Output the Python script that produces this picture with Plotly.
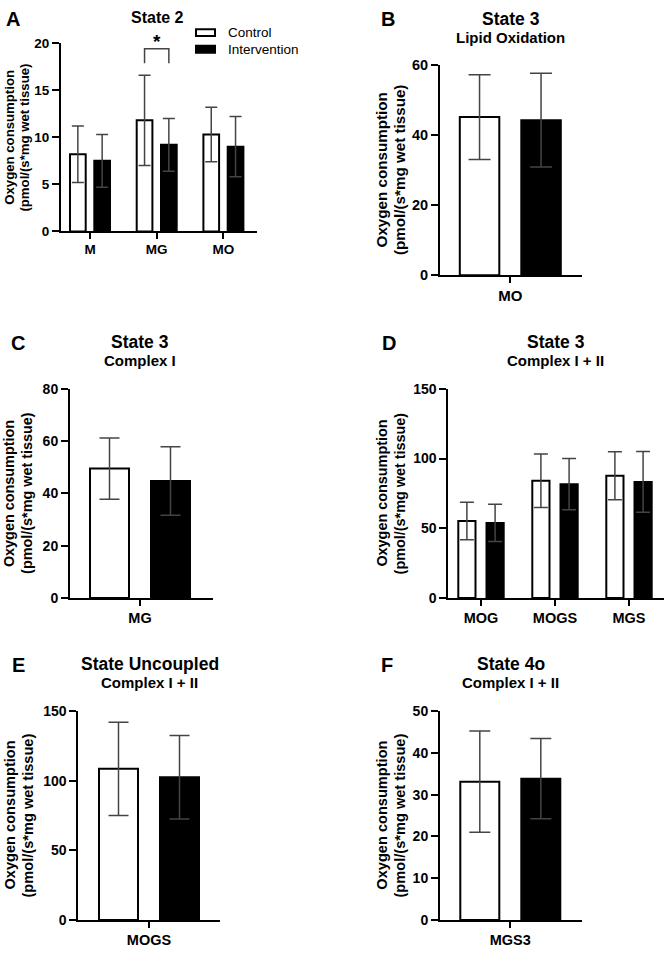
import plotly.graph_objects as go

# ---------------- DATA ----------------
a_cats = ["M", "MG", "MO"]
a_ctrl = [8.2, 11.8, 10.3]
a_ctrl_sd = [3.0, 4.8, 2.9]
a_intv = [7.5, 9.2, 9.0]
a_intv_sd = [2.8, 2.8, 3.2]

b_cats = ["MO"]
b_ctrl = [45.2]
b_ctrl_sd = [12.1]
b_intv = [44.3]
b_intv_sd = [13.4]

c_cats = ["MG"]
c_ctrl = [49.5]
c_ctrl_sd = [11.7]
c_intv = [44.7]
c_intv_sd = [13.1]

d_cats = ["MOG", "MOGS", "MGS"]
d_ctrl = [55.2, 84.0, 87.6]
d_ctrl_sd = [13.5, 19.2, 17.2]
d_intv = [53.8, 81.6, 83.2]
d_intv_sd = [13.4, 18.4, 21.8]

e_cats = ["MOGS"]
e_ctrl = [108.5]
e_ctrl_sd = [33.5]
e_intv = [102.5]
e_intv_sd = [30.0]

f_cats = ["MGS3"]
f_ctrl = [33.1]
f_ctrl_sd = [12.1]
f_intv = [33.8]
f_intv_sd = [9.6]

y_ticks_a = [0, 5, 10, 15, 20]
y_ticks_b = [0, 20, 40, 60]
y_ticks_c = [0, 20, 40, 60, 80]
y_ticks_d = [0, 50, 100, 150]
y_ticks_e = [0, 50, 100, 150]
y_ticks_f = [0, 10, 20, 30, 40, 50]

series_names = ["Control", "Intervention"]
ylab1 = "Oxygen consumption"
ylab2 = "(pmol/(s*mg wet tissue)"

# ---------------- LAYOUT / STYLE ----------------
W, H = 664, 955
FONT = "Liberation Sans, Arial, sans-serif"
ERR = "#444444"


def px(x):
    return x / W


def py(y):
    return 1 - y / H


panels = [
    dict(letter="A", cats=a_cats, ctrl=a_ctrl, csd=a_ctrl_sd, intv=a_intv, isd=a_intv_sd, ticks=y_ticks_a,
         left=61, right=257, top=35.7, bot=227.3, tick0=90, unit=66.7, inner=4.3, outer=20, cap=6,
         tfs=13.5, cfs=13.5, yfs=13.2, yl1=9.5, yl2=24.3, title="State 2", sub=None,
         tx=157, ty=9.5, sy=None, titfs=16, lx=13, ly=11, xstand=-2),
    dict(letter="B", cats=b_cats, ctrl=b_ctrl, csd=b_ctrl_sd, intv=b_intv, isd=b_intv_sd, ticks=y_ticks_b,
         left=440, right=582, top=58.3, bot=271.7, tick0=510.3, unit=1, inner=11, outer=50.5, cap=11,
         tfs=14.5, cfs=15, yfs=15.2, yl1=381.2, yl2=398.8, title="State 3", sub="Lipid Oxidation",
         tx=510.5, ty=11, sy=30, titfs=17.5, lx=387.5, ly=11.5, xstand=0),
    dict(letter="C", cats=c_cats, ctrl=c_ctrl, csd=c_ctrl_sd, intv=c_intv, isd=c_intv_sd, ticks=y_ticks_c,
         left=70, right=212.7, top=387.3, bot=600, tick0=140, unit=1, inner=11, outer=50, cap=10,
         tfs=14, cfs=14.5, yfs=14.4, yl1=9.7, yl2=27.5, title="State 3", sub="Complex I",
         tx=140, ty=339.5, sy=358.5, titfs=17.5, lx=18.3, ly=341, xstand=0),
    dict(letter="D", cats=d_cats, ctrl=d_ctrl, csd=d_ctrl_sd, intv=d_intv, isd=d_intv_sd, ticks=y_ticks_d,
         left=448.3, right=664, top=387.3, bot=600, tick0=481, unit=74, inner=5.5, outer=22.7, cap=7,
         tfs=14, cfs=14.5, yfs=14.4, yl1=382.2, yl2=400, title="State 3", sub="Complex I + II",
         tx=555.7, ty=339.5, sy=358.5, titfs=17.5, lx=389, ly=341, xstand=0),
    dict(letter="E", cats=e_cats, ctrl=e_ctrl, csd=e_ctrl_sd, intv=e_intv, isd=e_intv_sd, ticks=y_ticks_e,
         left=78.3, right=220, top=715, bot=927.5, tick0=149, unit=1, inner=11, outer=50, cap=10,
         tfs=14, cfs=14.5, yfs=14.6, yl1=10, yl2=28, title="State Uncoupled", sub="Complex I + II",
         tx=149.6, ty=667, sy=686, titfs=17.5, lx=18.3, ly=668, xstand=0),
    dict(letter="F", cats=f_cats, ctrl=f_ctrl, csd=f_ctrl_sd, intv=f_intv, isd=f_intv_sd, ticks=y_ticks_f,
         left=440, right=582.3, top=715, bot=927.5, tick0=510.3, unit=1, inner=11, outer=50, cap=10.5,
         tfs=14, cfs=14.5, yfs=14.6, yl1=382.2, yl2=400, title="State 4o", sub="Complex I + II",
         tx=510.7, ty=667, sy=686, titfs=17.5, lx=386.7, ly=668, xstand=0),
]

fig = go.Figure()
annotations = []
shapes = []
layout_axes = {}

for i, p in enumerate(panels):
    n = i + 1
    xa = "x" if n == 1 else f"x{n}"
    ya = "y" if n == 1 else f"y{n}"
    xkey = "xaxis" if n == 1 else f"xaxis{n}"
    ykey = "yaxis" if n == 1 else f"yaxis{n}"
    u = p["unit"]
    xs = list(range(len(p["cats"])))
    bw = (p["outer"] - p["inner"]) / u

    fig.add_trace(go.Bar(
        x=xs, y=p["ctrl"], name=series_names[0], showlegend=False,
        offset=-p["outer"] / u, width=bw,
        marker=dict(color="white", line=dict(color="black", width=2)),
        error_y=dict(type="data", array=p["csd"], color=ERR, thickness=1.5, width=p["cap"]),
        xaxis=xa, yaxis=ya,
    ))
    fig.add_trace(go.Bar(
        x=xs, y=p["intv"], name=series_names[1], showlegend=False,
        offset=p["inner"] / u, width=bw,
        marker=dict(color="black", line=dict(color="black", width=2)),
        error_y=dict(type="data", array=p["isd"], color=ERR, thickness=1.5, width=p["cap"]),
        xaxis=xa, yaxis=ya,
    ))

    layout_axes[xkey] = dict(
        domain=[px(p["left"]), min(1.0, px(p["right"]))],
        anchor=ya,
        range=[(p["left"] - p["tick0"]) / u, (p["right"] - p["tick0"]) / u],
        tickmode="array", tickvals=xs, ticktext=p["cats"],
        showline=True, linecolor="black", linewidth=2,
        ticks="outside", ticklen=6, tickwidth=2, tickcolor="black",
        ticklabelstandoff=p["xstand"],
        showgrid=False, zeroline=False, fixedrange=True,
        tickfont=dict(family=FONT, size=p["cfs"], color="black", weight="bold"),
    )
    layout_axes[ykey] = dict(
        domain=[py(p["bot"]), py(p["top"])],
        anchor=xa,
        range=[0, p["ticks"][-1]],
        tickmode="array", tickvals=p["ticks"],
        showline=True, linecolor="black", linewidth=2,
        ticks="outside", ticklen=7, tickwidth=2, tickcolor="black",
        showgrid=False, zeroline=False, fixedrange=True,
        tickfont=dict(family=FONT, size=p["tfs"], color="black", weight="bold"),
    )

    ymid = py((p["top"] + p["bot"]) / 2)
    for txt, xx in ((ylab1, p["yl1"]), (ylab2, p["yl2"])):
        annotations.append(dict(
            text=txt, x=px(xx), y=ymid, xref="paper", yref="paper",
            xanchor="center", yanchor="middle", textangle=-90, showarrow=False,
            font=dict(family=FONT, size=p["yfs"], color="black", weight="bold"),
        ))
    annotations.append(dict(
        text=p["title"], x=px(p["tx"]), y=py(p["ty"]), xref="paper", yref="paper",
        xanchor="center", yanchor="middle", showarrow=False,
        font=dict(family=FONT, size=p["titfs"], color="black", weight="bold"),
    ))
    if p["sub"]:
        annotations.append(dict(
            text=p["sub"], x=px(p["tx"]), y=py(p["sy"]), xref="paper", yref="paper",
            xanchor="center", yanchor="middle", showarrow=False,
            font=dict(family=FONT, size=15, color="black", weight="bold"),
        ))
    annotations.append(dict(
        text=p["letter"], x=px(p["lx"]), y=py(p["ly"]), xref="paper", yref="paper",
        xanchor="center", yanchor="middle", showarrow=False,
        font=dict(family=FONT, size=20, color="black", weight="bold"),
    ))

# significance bracket in panel A between MG bars
pa = panels[0]
mg_i = a_cats.index("MG")
c_center = mg_i - (pa["outer"] + pa["inner"]) / 2 / pa["unit"]
i_center = mg_i + (pa["outer"] + pa["inner"]) / 2 / pa["unit"]
br_top, br_bot = 19.4, 17.85
shapes.append(dict(
    type="path", xref="x", yref="y",
    path=f"M {c_center} {br_bot} L {c_center} {br_top} L {i_center} {br_top} L {i_center} {br_bot}",
    line=dict(color=ERR, width=1.5),
))
star_x_px = pa["tick0"] + mg_i * pa["unit"]
annotations.append(dict(
    text="*", x=px(star_x_px), y=py(34), xref="paper", yref="paper", xanchor="center", yanchor="middle",
    showarrow=False, font=dict(family=FONT, size=19, color="black", weight="bold"),
))

# legend (panel A)
for k, (name, fill, yc) in enumerate(((series_names[0], "white", 25), (series_names[1], "black", 42))):
    shapes.append(dict(
        type="rect", xref="paper", yref="paper",
        x0=px(196), x1=px(215), y0=py(yc - 3.5), y1=py(yc + 3.5),
        fillcolor=fill, line=dict(color="black", width=2),
    ))
    annotations.append(dict(
        text=name, x=px(226), y=py(yc), xref="paper", yref="paper",
        xanchor="left", yanchor="middle", showarrow=False,
        font=dict(family=FONT, size=13.5, color="black"),
    ))

fig.update_layout(
    width=W, height=H,
    margin=dict(l=0, r=0, t=0, b=0),
    paper_bgcolor="white", plot_bgcolor="white",
    showlegend=False,
    annotations=annotations, shapes=shapes,
    font=dict(family=FONT, color="black"),
    **layout_axes,
)

fig.write_html(
    "out.html",
    config={"displayModeBar": False, "staticPlot": True},
    post_script="document.body.style.margin='0';document.body.style.overflow='hidden';",
)
